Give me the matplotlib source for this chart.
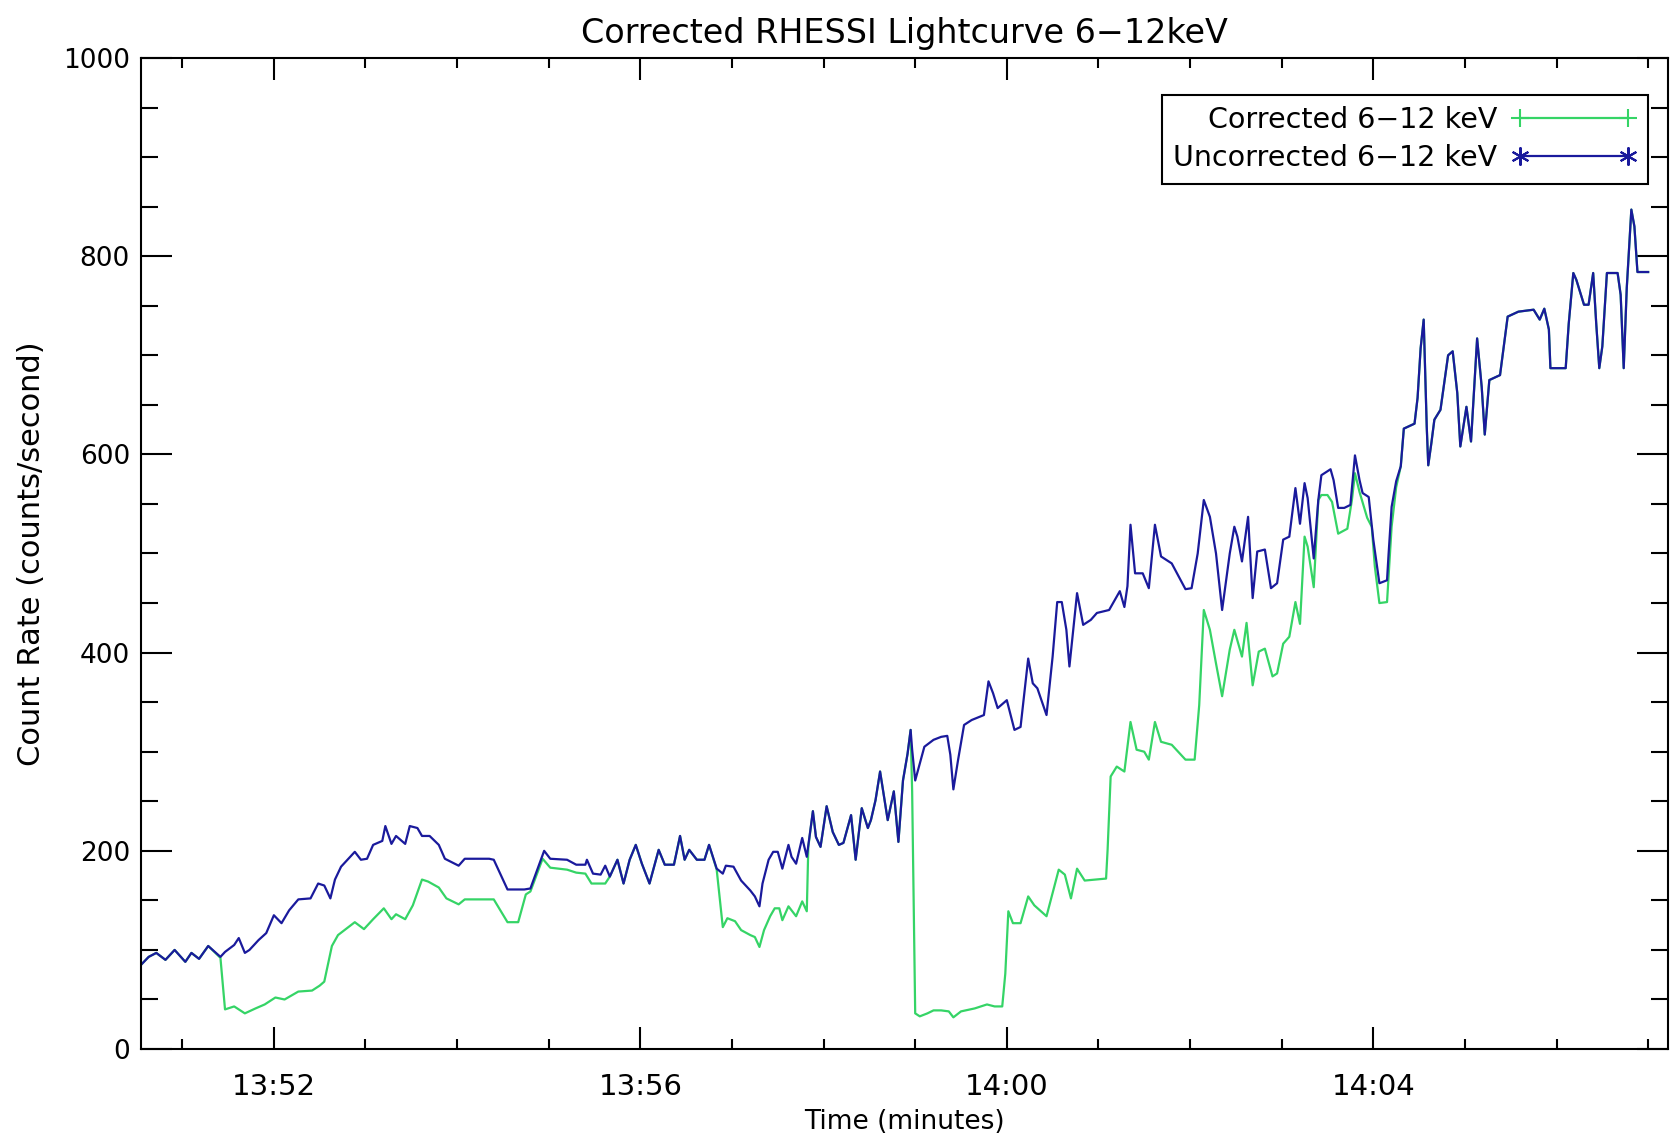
#!/usr/bin/env python3
"""
Corrected vs uncorrected RHESSI lightcurve, 6-12 keV
"""

import matplotlib
matplotlib.use("Agg")
import matplotlib.pyplot as plt
from matplotlib.lines import Line2D
from matplotlib.ticker import MultipleLocator, FuncFormatter

# time is seconds after 13:50:00, rate is counts/second
unc_time = [33, 38, 43, 49, 55, 62, 66, 71, 77, 85,
            88, 94, 97, 101, 104, 110, 115, 120, 125, 130,
            136, 144, 149, 153, 157, 160, 164, 173, 177, 181,
            185, 191, 193, 197, 200, 206, 209, 214, 217, 222,
            228, 232, 241, 245, 261, 264, 273, 284, 288, 297,
            301, 312, 318, 324, 325, 329, 334, 337, 340, 345,
            349, 353, 357, 361, 366, 372, 376, 382, 386, 389,
            392, 397, 402, 405, 410, 414, 416, 421, 426, 432,
            435, 438, 440, 444, 447, 450, 453, 457, 459, 462,
            466, 469, 473, 475, 478, 482, 486, 490, 493, 498,
            501, 505, 509, 511, 514, 517, 522, 526, 529, 532,
            535, 537, 538, 540, 546, 552, 557, 561, 563, 565,
            568, 572, 577, 585, 588, 591, 594, 600, 605, 609,
            614, 617, 620, 626, 630, 633, 636, 639, 641, 643,
            646, 650, 655, 659, 667, 674, 677, 679, 681, 684,
            689, 693, 697, 701, 708, 717, 721, 725, 729, 733,
            737, 741, 746, 749, 751, 754, 758, 761, 764, 769,
            773, 777, 781, 785, 789, 792, 795, 797, 801, 804,
            806, 812, 814, 817, 821, 825, 828, 831, 833, 837,
            840, 844, 849, 850, 852, 855, 858, 860, 867, 869,
            871, 873, 875, 876, 878, 880, 884, 889, 892, 895,
            897, 901, 904, 908, 911, 913, 916, 923, 928, 935,
            945, 949, 952, 955, 956, 966, 968, 971, 973, 978,
            981, 984, 986, 988, 990, 993, 1000, 1002, 1004, 1006,
            1008, 1009, 1011, 1013, 1020]
unc_rate = [85, 93, 97, 90, 100, 88, 97, 91, 104, 93,
            98, 105, 112, 97, 100, 110, 117, 135, 127, 140,
            151, 152, 167, 165, 152, 171, 184, 199, 191, 192,
            206, 210, 225, 207, 215, 207, 225, 223, 215, 215,
            206, 192, 185, 192, 192, 191, 161, 161, 162, 200,
            192, 191, 186, 186, 191, 177, 176, 185, 174, 191,
            167, 191, 206, 187, 167, 201, 186, 186, 215, 191,
            201, 191, 191, 206, 182, 177, 185, 184, 170, 160,
            154, 144, 167, 191, 199, 199, 182, 206, 194, 187,
            213, 194, 240, 214, 204, 245, 219, 206, 208, 236,
            191, 243, 223, 231, 251, 280, 231, 260, 209, 271,
            298, 322, 302, 271, 305, 312, 315, 316, 297, 262,
            291, 327, 332, 337, 371, 359, 344, 352, 322, 325,
            394, 369, 364, 337, 396, 451, 451, 423, 386, 416,
            460, 428, 433, 440, 443, 462, 446, 467, 529, 480,
            480, 465, 529, 497, 490, 464, 465, 500, 554, 537,
            500, 443, 500, 527, 517, 492, 537, 455, 502, 504,
            465, 470, 514, 517, 566, 530, 571, 556, 495, 554,
            579, 585, 574, 546, 546, 549, 599, 574, 561, 557,
            514, 470, 473, 499, 547, 573, 588, 626, 631, 657,
            707, 736, 628, 589, 611, 635, 645, 700, 704, 662,
            608, 648, 613, 717, 668, 620, 675, 680, 739, 744,
            746, 736, 747, 726, 687, 687, 732, 783, 776, 751,
            751, 783, 732, 687, 709, 783, 783, 761, 687, 768,
            821, 847, 830, 784, 784]

cor_time = [33, 38, 43, 49, 55, 62, 66, 71, 77, 85,
            88, 94, 101, 108, 114, 121, 127, 136, 145, 150,
            153, 158, 162, 173, 179, 185, 192, 197, 200, 206,
            211, 217, 221, 228, 233, 241, 245, 264, 273, 280,
            285, 288, 296, 301, 312, 318, 324, 328, 337, 340,
            345, 349, 353, 357, 361, 366, 372, 376, 382, 386,
            389, 392, 397, 402, 405, 410, 414, 417, 422, 426,
            432, 435, 438, 441, 445, 448, 451, 453, 457, 462,
            466, 469, 470, 473, 475, 478, 482, 486, 490, 493,
            498, 501, 505, 509, 511, 514, 517, 522, 526, 529,
            532, 535, 537, 538, 540, 543, 548, 552, 557, 562,
            565, 570, 579, 587, 592, 597, 599, 601, 604, 609,
            614, 618, 626, 634, 638, 642, 646, 651, 665, 666,
            668, 672, 677, 681, 685, 690, 693, 697, 701, 708,
            717, 723, 726, 729, 733, 737, 741, 746, 749, 754,
            757, 761, 765, 769, 774, 777, 781, 785, 789, 792,
            795, 797, 801, 804, 806, 810, 813, 817, 823, 826,
            828, 831, 836, 839, 841, 844, 849, 852, 855, 858,
            860, 867, 869, 871, 873, 875, 876, 878, 880, 884,
            889, 892, 895, 897, 901, 904, 908, 911, 913, 916,
            923, 928, 935, 945, 949, 952, 955, 956, 966, 968,
            971, 973, 978, 981, 984, 986, 988, 990, 993, 1000,
            1002, 1004, 1006, 1008, 1009, 1011, 1013, 1020]
cor_rate = [85, 93, 97, 90, 100, 88, 97, 91, 104, 92,
            40, 43, 36, 41, 45, 52, 50, 58, 59, 64,
            68, 104, 115, 128, 121, 131, 142, 131, 136, 131,
            145, 171, 169, 163, 152, 146, 151, 151, 128, 128,
            156, 159, 192, 183, 181, 178, 177, 167, 167, 174,
            191, 167, 191, 206, 187, 167, 201, 186, 186, 215,
            191, 201, 191, 191, 206, 181, 123, 132, 129, 120,
            115, 113, 103, 120, 134, 142, 142, 130, 144, 134,
            149, 139, 204, 240, 214, 204, 245, 219, 206, 208,
            236, 191, 243, 223, 231, 251, 280, 231, 260, 209,
            271, 298, 322, 260, 36, 33, 36, 39, 39, 38,
            32, 38, 41, 45, 43, 43, 76, 139, 127, 127,
            154, 145, 134, 181, 176, 152, 182, 170, 172, 201,
            275, 285, 280, 330, 302, 300, 292, 330, 310, 307,
            292, 292, 347, 443, 423, 389, 356, 403, 423, 396,
            430, 367, 401, 404, 376, 379, 409, 416, 451, 429,
            517, 507, 466, 554, 559, 559, 552, 520, 525, 554,
            581, 562, 536, 527, 487, 450, 451, 527, 567, 588,
            626, 631, 657, 707, 736, 628, 589, 611, 635, 645,
            700, 704, 662, 608, 648, 613, 717, 668, 620, 675,
            680, 739, 744, 746, 736, 747, 726, 687, 687, 732,
            783, 776, 751, 751, 783, 732, 687, 709, 783, 783,
            761, 687, 768, 821, 847, 830, 784, 784]

assert len(unc_time) == len(unc_rate)
assert len(cor_time) == len(cor_rate)

GREEN = '#35d466'
BLUE = '#1a1a9c'


def hhmm(t, pos):
    """seconds after 13:50 -> HH:MM"""
    minutes = 13 * 60 + 50 + int(round(t / 60.0))
    return f"{minutes // 60:02d}:{minutes % 60:02d}"


def main():
    plt.rcParams['font.family'] = ['DejaVu Sans']

    fig, ax = plt.subplots(figsize=(16.71, 11.43), dpi=100)
    fig.subplots_adjust(left=0.0844, right=0.9982, bottom=0.0822, top=0.9493)

    ax.plot(cor_time, cor_rate, color=GREEN, lw=1.6)
    ax.plot(unc_time, unc_rate, color=BLUE, lw=1.6)

    ax.set_xlim(33, 1033)
    ax.set_ylim(0, 1000)

    ax.xaxis.set_major_locator(MultipleLocator(240, offset=120))
    ax.xaxis.set_minor_locator(MultipleLocator(60))
    ax.xaxis.set_major_formatter(FuncFormatter(hhmm))
    ax.yaxis.set_major_locator(MultipleLocator(200))
    ax.yaxis.set_minor_locator(MultipleLocator(50))

    ax.tick_params(axis='both', which='both', direction='in',
                   top=True, right=True, width=1.5, colors='black')
    ax.tick_params(axis='x', which='major', length=16, pad=17, labelsize=21)
    ax.tick_params(axis='x', which='minor', length=7.5)
    ax.tick_params(axis='y', which='major', length=22, pad=8, labelsize=19)
    ax.tick_params(axis='y', which='minor', length=12)
    for sp in ax.spines.values():
        sp.set_linewidth(1.5)

    ax.set_title('Corrected RHESSI Lightcurve 6\u221212keV', fontsize=24, pad=11)
    ax.set_xlabel('Time (minutes)', fontsize=19, labelpad=6)
    ax.set_ylabel('Count Rate (counts/second)', fontsize=22, labelpad=12)

    handles = [
        Line2D([], [], color=GREEN, lw=1.6, marker='+', ms=13, mew=1.5),
        Line2D([], [], color=BLUE, lw=1.6, marker=(6, 2, 0), ms=13, mew=1.5),
    ]
    labels = ['Corrected 6\u221212 keV', 'Uncorrected 6\u221212 keV']
    leg = ax.legend(handles, labels, loc='upper right',
                    bbox_to_anchor=(0.9869, 0.9627), borderaxespad=0,
                    markerfirst=False, numpoints=2, handlelength=4.4,
                    handletextpad=0.5, labelspacing=0.35, borderpad=0.4,
                    fontsize=20.5, fancybox=False, framealpha=1,
                    edgecolor='black')
    leg.get_frame().set_linewidth(1.5)

    fig.savefig('out.png', dpi=100)
    plt.close(fig)


if __name__ == "__main__":
    main()
